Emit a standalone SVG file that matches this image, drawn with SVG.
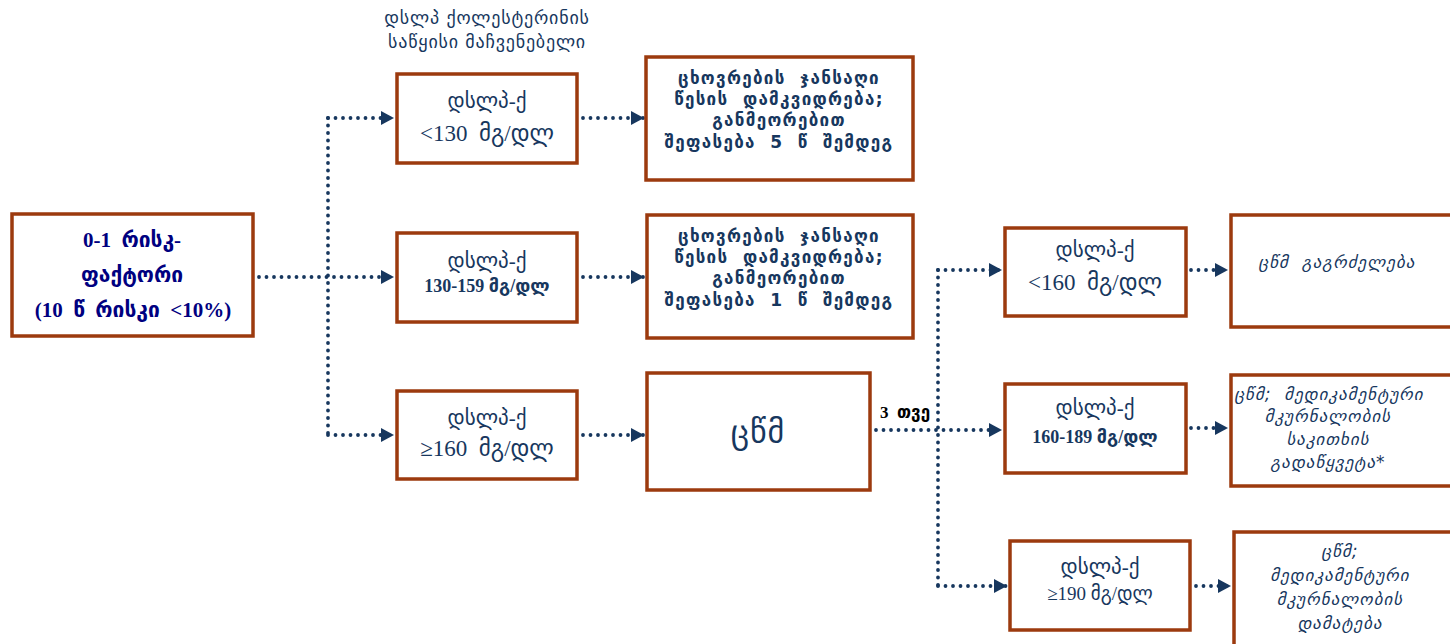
<svg xmlns="http://www.w3.org/2000/svg" width="1450" height="644" viewBox="0 0 1450 644">
<style>
.box{fill:#fff;stroke:#9c3a0e;stroke-width:3.5}
.t{font-family:"Liberation Serif","DejaVu Sans",serif;fill:#17375e;text-anchor:middle}
.g{font-family:"DejaVu Sans",sans-serif;fill:#17375e;text-anchor:middle}
.c{font-size:17px;font-weight:bold;letter-spacing:1.3px}
.a{fill:#000080}
.it{font-style:italic;font-size:17px;letter-spacing:1px}
.con{fill:none;stroke:#17375e;stroke-width:3.8;stroke-dasharray:0 7.5;stroke-linecap:round}
</style>
<defs>
<marker id="arr" markerUnits="userSpaceOnUse" markerWidth="14" markerHeight="14" refX="13" refY="7" orient="auto">
<path d="M0,0 L13,7 L0,14 z" fill="#17375e"/>
</marker>
</defs>
<rect width="1450" height="644" fill="#fff"/>
<g id="title">
<text class="g" x="487" y="24" font-size="18" letter-spacing="0.8">დსლპ ქოლესტერინის</text>
<text class="g" x="487" y="48" font-size="18" letter-spacing="0.8">საწყისი მაჩვენებელი</text>
</g>
<g id="connectors">
<path class="con" d="M259,277 H394" marker-end="url(#arr)"/>
<path class="con" d="M328,118 V435"/>
<path class="con" d="M328,118 H394" marker-end="url(#arr)"/>
<path class="con" d="M328,435 H394" marker-end="url(#arr)"/>
<path class="con" d="M583,118 H644" marker-end="url(#arr)"/>
<path class="con" d="M583,277 H644" marker-end="url(#arr)"/>
<path class="con" d="M583,435 H644" marker-end="url(#arr)"/>
<path class="con" d="M876,430 H1002" marker-end="url(#arr)"/>
<path class="con" d="M938,270 V586"/>
<path class="con" d="M938,270 H1002" marker-end="url(#arr)"/>
<path class="con" d="M938,586 H1007" marker-end="url(#arr)"/>
<path class="con" d="M1191,270 H1228" marker-end="url(#arr)"/>
<path class="con" d="M1191,428 H1228" marker-end="url(#arr)"/>
<path class="con" d="M1196,586 H1231" marker-end="url(#arr)"/>
<text x="880" y="418" font-family="'Liberation Serif','DejaVu Sans',serif" font-size="17" font-weight="bold" fill="#000">3&#160;&#160;თვე</text>
</g>
<g id="nodeA">
<rect class="box" x="12" y="214" width="241" height="122"/>
<text class="t a" x="132" y="247" font-size="21" font-weight="bold">0-1&#160;&#160;რისკ-</text>
<text class="t a" x="132" y="282" font-size="21" font-weight="bold">ფაქტორი</text>
<text class="t a" x="133" y="317" font-size="21" font-weight="bold">(10&#160;&#160;წ&#160;&#160;რისკი&#160;&#160;&lt;10%)</text>
</g>
<g id="nodeB1">
<rect class="box" x="397" y="74" width="180" height="89"/>
<text class="t" x="487" y="108" font-size="21">დსლპ-ქ</text>
<text class="t" x="487" y="141" font-size="23">&lt;130&#160;&#160;მგ/დლ</text>
</g>
<g id="nodeB2">
<rect class="box" x="397" y="233" width="180" height="89"/>
<text class="t" x="487" y="268" font-size="21">დსლპ-ქ</text>
<text class="t" x="487" y="292" font-size="18" font-weight="bold">130-159 მგ/დლ</text>
</g>
<g id="nodeB3">
<rect class="box" x="397" y="391" width="180" height="88"/>
<text class="t" x="487" y="425" font-size="21">დსლპ-ქ</text>
<text class="t" x="487" y="456" font-size="23">≥160&#160;&#160;მგ/დლ</text>
</g>
<g id="nodeC1">
<rect class="box" x="646" y="57" width="267" height="123"/>
<text class="g c" x="779" y="84">ცხოვრების&#160;&#160;ჯანსაღი</text>
<text class="g c" x="779" y="105">წესის&#160;&#160;დამკვიდრება;</text>
<text class="g c" x="779" y="126">განმეორებით</text>
<text class="g c" x="779" y="148">შეფასება&#160;&#160;5&#160;&#160;წ&#160;&#160;შემდეგ</text>
</g>
<g id="nodeC2">
<rect class="box" x="647" y="215" width="266" height="123"/>
<text class="g c" x="779" y="242">ცხოვრების&#160;&#160;ჯანსაღი</text>
<text class="g c" x="779" y="263">წესის&#160;&#160;დამკვიდრება;</text>
<text class="g c" x="779" y="284">განმეორებით</text>
<text class="g c" x="779" y="306">შეფასება&#160;&#160;1&#160;&#160;წ&#160;&#160;შემდეგ</text>
</g>
<g id="nodeC3">
<rect class="box" x="647" y="373" width="223" height="117"/>
<text class="g" x="758" y="443" font-size="32" letter-spacing="1">ცწმ</text>
</g>
<g id="nodeD1">
<rect class="box" x="1005" y="228" width="181" height="88"/>
<text class="t" x="1095" y="257" font-size="21">დსლპ-ქ</text>
<text class="t" x="1095" y="290" font-size="23">&lt;160&#160;&#160;მგ/დლ</text>
</g>
<g id="nodeD2">
<rect class="box" x="1005" y="384" width="181" height="89"/>
<text class="t" x="1095" y="415" font-size="21">დსლპ-ქ</text>
<text class="t" x="1095" y="443" font-size="18" font-weight="bold">160-189 მგ/დლ</text>
</g>
<g id="nodeD3">
<rect class="box" x="1010" y="541" width="180" height="89"/>
<text class="t" x="1100" y="574" font-size="21">დსლპ-ქ</text>
<text class="t" x="1100" y="600" font-size="19">≥190 მგ/დლ</text>
</g>
<g id="nodeE1">
<rect class="box" x="1231" y="215" width="240" height="112"/>
<text class="g it" x="1337" y="268">ცწმ&#160;&#160;გაგრძელება</text>
</g>
<g id="nodeE2">
<rect class="box" x="1231" y="375" width="240" height="111"/>
<text class="g it" x="1329" y="400" letter-spacing="0.6">ცწმ;&#160;&#160;მედიკამენტური</text>
<text class="g it" x="1328" y="422">მკურნალობის</text>
<text class="g it" x="1328" y="445">საკითხის</text>
<text class="g it" x="1328" y="468">გადაწყვეტა*</text>
</g>
<g id="nodeE3">
<rect class="box" x="1234" y="532" width="240" height="120"/>
<text class="g it" x="1340" y="557">ცწმ;</text>
<text class="g it" x="1340" y="581">მედიკამენტური</text>
<text class="g it" x="1340" y="605">მკურნალობის</text>
<text class="g it" x="1340" y="629">დამატება</text>
</g>
</svg>
